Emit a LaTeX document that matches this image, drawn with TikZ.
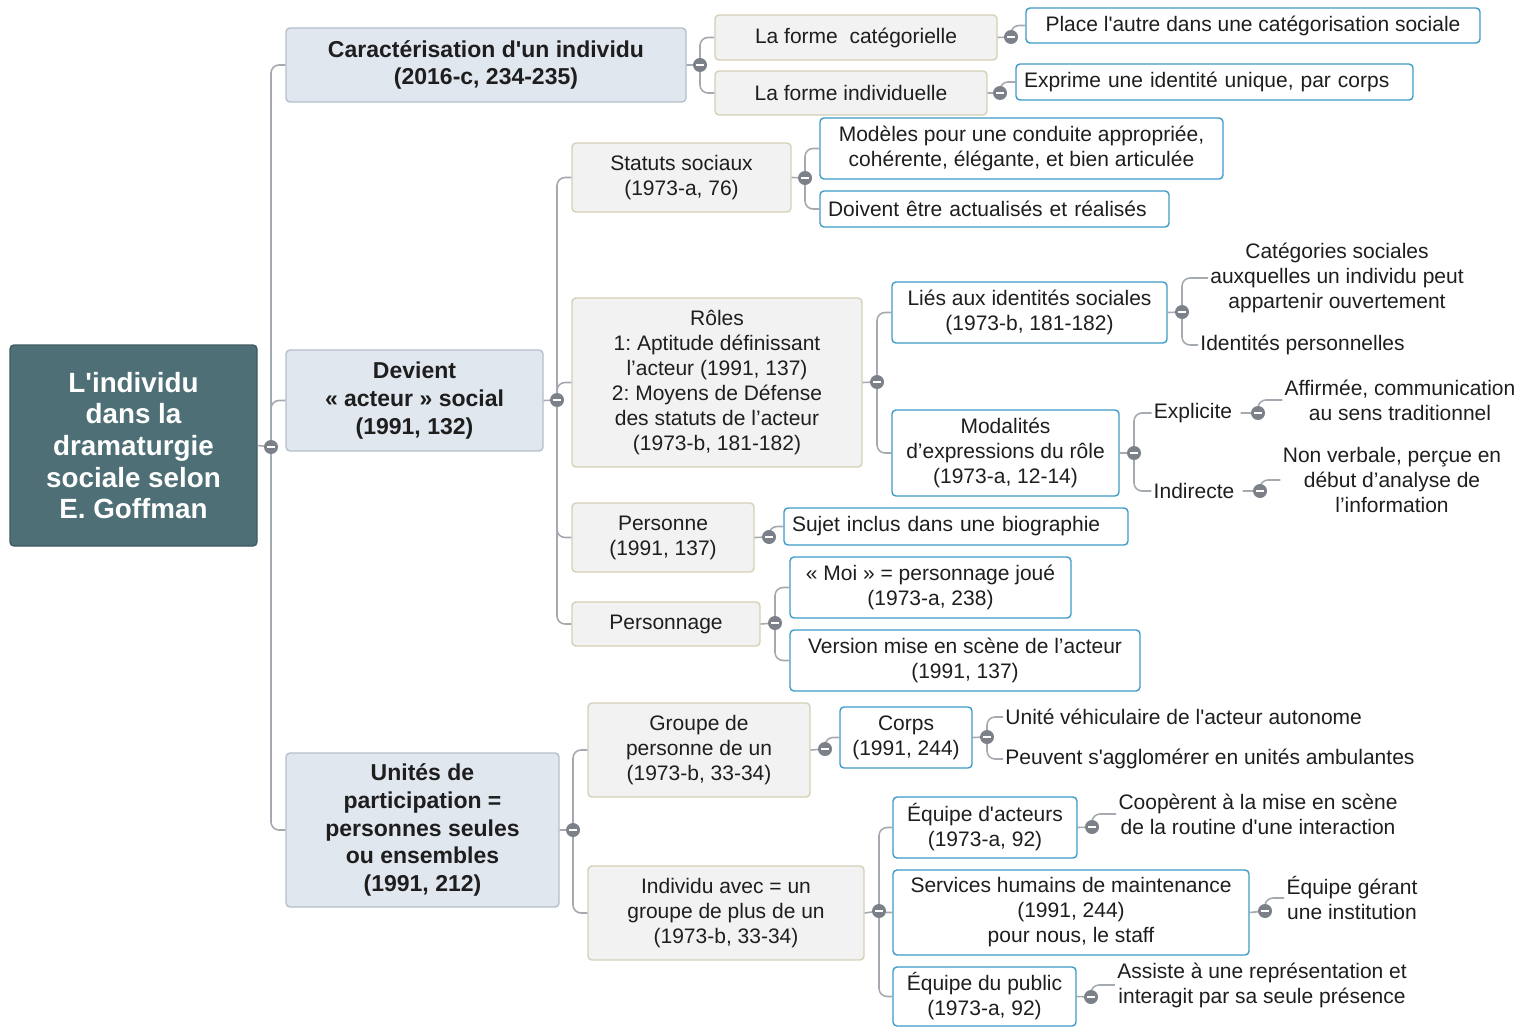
\documentclass[tikz,border=0pt]{standalone}
\usepackage{fontspec}
\setmainfont{Liberation Sans}[Ligatures=TeXOff]
\frenchspacing
\newcommand\fsN{\fontsize{10.5}{12.5}\selectfont}
\newcommand\fsB{\fontsize{11.5}{13.8}\selectfont\bfseries}
\newcommand\fsR{\fontsize{13.9}{15.8}\selectfont\bfseries}
\definecolor{rootc}{HTML}{4E6F75}
\definecolor{rootb}{HTML}{3F5B61}
\definecolor{lonef}{HTML}{E1E7EF}
\definecolor{loneb}{HTML}{B5BFCB}
\definecolor{ltwof}{HTML}{F2F2F2}
\definecolor{ltwob}{HTML}{D6D0B6}
\definecolor{blueb}{HTML}{3D9BC7}
\definecolor{cgray}{HTML}{A5A9B0}
\definecolor{mgray}{HTML}{7B8089}
\definecolor{txt}{HTML}{1E1E1E}
\tikzset{
  x=0.5pt, y=-0.5pt,
  wh/.style 2 args={minimum width=#1*0.5pt, minimum height=#2*0.5pt},
  lefttext/.style={text width=#1*0.5pt, align=left},
  boxbase/.style={rounded corners=2pt, line width=0.7pt, align=center, inner sep=0pt, text=txt},
  rootbox/.style={boxbase, fill=rootc, draw=rootb, text=white, font=\fsR},
  lonebox/.style={boxbase, fill=lonef, draw=loneb, font=\fsB},
  ltwobox/.style={boxbase, fill=ltwof, draw=ltwob, font=\fsN},
  bluebox/.style={boxbase, fill=white, draw=blueb, font=\fsN},
  plain/.style={font=\fsN, align=center, inner sep=1pt, text=txt},
  conn/.style={draw=cgray, line width=0.8pt, rounded corners=4pt},
  minus/.style={circle, fill=mgray, minimum size=7pt, inner sep=0pt,
    path picture={\draw[white, line width=1.2pt]
      ([xshift=-2pt]path picture bounding box.center) --
      ([xshift=2pt]path picture bounding box.center);}}
}
\begin{document}
\begin{tikzpicture}
\useasboundingbox (0,0) rectangle (1534,1027);
% ---------- boxes ----------
\node[rootbox, wh={247}{201}] (R) at (133.5,445.5) {L'individu\\dans la\\dramaturgie\\sociale selon\\E. Goffman};
\node[lonebox, wh={400}{74}] (A) at (486,65) {Caractérisation d'un individu\\(2016-c, 234-235)};
\node[lonebox, wh={257}{101}] (B) at (414.5,400.5) {Devient\\« acteur » social\\(1991, 132)};
\node[lonebox, wh={273}{154}] (C) at (422.5,830) {Unités de\\participation =\\personnes seules\\ou ensembles\\(1991, 212)};
\node[ltwobox, wh={282}{45}] (A1) at (856,37.5) {La forme\ \ catégorielle};
\node[ltwobox, wh={272}{44}] (A2) at (851,93) {La forme individuelle};
\node[bluebox, wh={454}{35}] (A1a) at (1253,25.5) {Place l'autre dans une catégorisation sociale};
\node[bluebox, wh={397}{36}, lefttext=381] (A2a) at (1214.5,82) {Exprime une identité unique, par corps};
\node[ltwobox, wh={219}{69}] (B1) at (681.5,177.5) {Statuts sociaux\\(1973-a, 76)};
\node[ltwobox, wh={290}{169}] (B2) at (717,382.5) {Rôles\\1: Aptitude définissant\\l’acteur (1991, 137)\\2: Moyens de Défense\\des statuts de l’acteur\\(1973-b, 181-182)};
\node[ltwobox, wh={182}{69}] (B3) at (663,537.5) {Personne\\(1991, 137)};
\node[ltwobox, wh={188}{44}] (B4) at (666,624) {Personnage};
\node[bluebox, wh={403}{61}] (B1a) at (1021.5,148.5) {Modèles pour une conduite appropriée,\\cohérente, élégante, et bien articulée};
\node[bluebox, wh={349}{36}, lefttext=333] (B1b) at (994.5,209) {Doivent être actualisés et réalisés};
\node[bluebox, wh={275}{61}] (B2a) at (1029.5,312.5) {Liés aux identités sociales\\(1973-b, 181-182)};
\node[bluebox, wh={227}{86}] (B2b) at (1005.5,453) {Modalités\\d’expressions du rôle\\(1973-a, 12-14)};
\node[bluebox, wh={344}{37}, lefttext=328] (B3a) at (956,526.5) {Sujet inclus dans une biographie};
\node[bluebox, wh={281}{61}] (B4a) at (930.5,587.5) {« Moi » = personnage joué\\(1973-a, 238)};
\node[bluebox, wh={350}{61}] (B4b) at (965,660.5) {Version mise en scène de l’acteur\\(1991, 137)};
\node[ltwobox, wh={222}{94}] (C1) at (699,750) {Groupe de\\personne de un\\(1973-b, 33-34)};
\node[ltwobox, wh={276}{94}] (C2) at (726,913) {Individu avec = un\\groupe de plus de un\\(1973-b, 33-34)};
\node[bluebox, wh={132}{61}] (C1a) at (906,737.5) {Corps\\(1991, 244)};
\node[bluebox, wh={184}{61}] (C2a) at (985,827.5) {Équipe d'acteurs\\(1973-a, 92)};
\node[bluebox, wh={356}{85}] (C2b) at (1071,912.5) {Services humains de maintenance\\(1991, 244)\\pour nous, le staff};
\node[bluebox, wh={183}{59}] (C2c) at (984.5,996.5) {Équipe du public\\(1973-a, 92)};
% ---------- plain texts ----------
\node[plain] (B2a1) at (1337,278) {Catégories sociales\\auxquelles un individu peut\\appartenir ouvertement};
\node[plain, anchor=west] (B2a2) at (1198,345) {Identités personnelles};
\node[plain] (Ex) at (1193,413) {Explicite};
\node[plain] (In) at (1194,491) {Indirecte};
\node[plain] (Ex1) at (1400,400) {Affirmée, communication\\au sens traditionnel};
\node[plain] (In1) at (1392,480) {Non verbale, perçue en\\début d’analyse de\\l’information};
\node[plain, anchor=west] (C1a1) at (1003,717) {Unité véhiculaire de l'acteur autonome};
\node[plain, anchor=west] (C1a2) at (1003,759) {Peuvent s'agglomérer en unités ambulantes};
\node[plain] (C2a1) at (1258,814) {Coopèrent à la mise en scène\\de la routine d'une interaction};
\node[plain] (C2b1) at (1352,898) {Équipe gérant\\une institution};
\node[plain] (C2c1) at (1262,985) {Assiste à une représentation et\\interagit par sa seule présence};
% ---------- minus coordinates ----------
\coordinate (mR) at (271,447);
\coordinate (mA) at (700,65);
\coordinate (mA1) at (1011,37);
\coordinate (mA2) at (1000,93);
\coordinate (mB) at (557,400);
\coordinate (mB1) at (805,178);
\coordinate (mB2) at (877,382);
\coordinate (mB2a) at (1182,312);
\coordinate (mB2b) at (1134,453);
\coordinate (mEx) at (1258,413);
\coordinate (mIn) at (1260,491);
\coordinate (mB3) at (769,537);
\coordinate (mB4) at (775,623);
\coordinate (mC) at (573,830);
\coordinate (mC1) at (825,749);
\coordinate (mC1a) at (987,737);
\coordinate (mC2) at (879,911);
\coordinate (mC2a) at (1092,827);
\coordinate (mC2b) at (1265,911);
\coordinate (mC2c) at (1091,997);
% ---------- connectors ----------
\draw[conn] (R.east) -- (mR) (mR) |- (A.west) (mR) |- (B.west) (mR) |- (C.west);
\draw[conn] (A.east) -- (mA) (mA) |- (A1.west) (mA) |- (A2.west);
\draw[conn] (A1.east) -- (mA1) (mA1) |- (A1a.west);
\draw[conn] (A2.east) -- (mA2) (mA2) |- (A2a.west);
\draw[conn] (B.east) -- (mB) (mB) |- (B1.west) (mB) |- (B2.west) (mB) |- (B3.west) (mB) |- (B4.west);
\draw[conn] (B1.east) -- (mB1) (mB1) |- (B1a.west) (mB1) |- (B1b.west);
\draw[conn] (B2.east) -- (mB2) (mB2) |- (B2a.west) (mB2) |- (B2b.west);
\draw[conn] (B2a.east) -- (mB2a) (mB2a) |- (B2a1.west) (mB2a) |- (B2a2.west);
\draw[conn] (B2b.east) -- (mB2b) (mB2b) |- (Ex.west) (mB2b) |- (In.west);
\draw[conn] ([xshift=3pt]Ex.east) -- (mEx) (mEx) |- (Ex1.west);
\draw[conn] ([xshift=3pt]In.east) -- (mIn) (mIn) |- (In1.west);
\draw[conn] (B3.east) -- (mB3) (mB3) |- (B3a.west);
\draw[conn] (B4.east) -- (mB4) (mB4) |- (B4a.west) (mB4) |- (B4b.west);
\draw[conn] (C.east) -- (mC) (mC) |- (C1.west) (mC) |- (C2.west);
\draw[conn] (C1.east) -- (mC1) (mC1) |- (C1a.west);
\draw[conn] (C1a.east) -- (mC1a) (mC1a) |- (C1a1.west) (mC1a) |- (C1a2.west);
\draw[conn] (C2.east) -- (mC2) (mC2) |- (C2a.west) (mC2) |- (C2b.west) (mC2) |- (C2c.west);
\draw[conn] (C2a.east) -- (mC2a) (mC2a) |- (C2a1.west);
\draw[conn] (C2b.east) -- (mC2b) (mC2b) |- (C2b1.west);
\draw[conn] (C2c.east) -- (mC2c) (mC2c) |- (C2c1.west);
% ---------- minus markers ----------
\foreach \m in {mR,mA,mA1,mA2,mB,mB1,mB2,mB2a,mB2b,mEx,mIn,mB3,mB4,mC,mC1,mC1a,mC2,mC2a,mC2b,mC2c}
  \node[minus] at (\m) {};
\end{tikzpicture}
\end{document}
